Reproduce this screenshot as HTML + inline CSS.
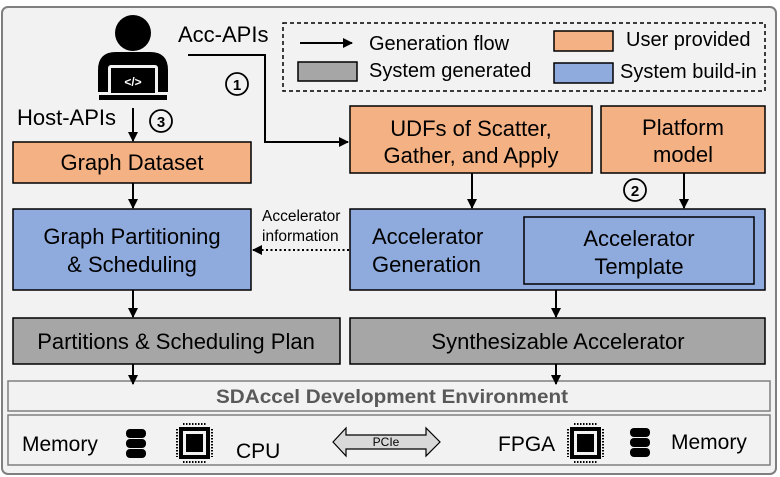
<!DOCTYPE html>
<html><head><style>
html,body{margin:0;padding:0;background:#fff;}
svg{display:block;font-family:"Liberation Sans",Arial,sans-serif;}
</style></head><body>
<svg width="780" height="477" viewBox="0 0 780 477" xmlns="http://www.w3.org/2000/svg">
<defs>
<marker id="ah" markerWidth="10" markerHeight="10" refX="9" refY="5" orient="auto" markerUnits="userSpaceOnUse"><path d="M0,0 L10,5 L0,10 z" fill="#000"/></marker>
</defs>
<rect x="2" y="7" width="774" height="467" rx="6" fill="#f2f2f2" stroke="#7f7f7f" stroke-width="2"/>

<!-- person icon -->
<circle cx="133" cy="33" r="18" fill="#000"/>
<path d="M98,92 L98,70 Q98,52 116,52 L150,52 Q168,52 168,70 L168,92 z" fill="#000"/>
<rect x="108" y="65" width="50" height="30" rx="3" fill="#f2f2f2"/>
<rect x="111" y="68" width="44" height="25" fill="#000"/>
<rect x="99" y="95" width="68" height="5" fill="#000"/>
<text x="133" y="86" font-size="12" font-weight="bold" fill="#fff" text-anchor="middle">&lt;/&gt;</text>

<text x="178" y="42" font-size="22" fill="#000">Acc-APIs</text>
<path d="M188,55 L265,55 L265,142 L348,142" fill="none" stroke="#000" stroke-width="2" marker-end="url(#ah)"/>
<circle cx="237" cy="84" r="11" fill="none" stroke="#000" stroke-width="1.8"/>
<text x="237" y="90" font-size="15" font-weight="bold" text-anchor="middle">1</text>

<!-- legend -->
<rect x="283" y="23" width="482" height="68" fill="none" stroke="#000" stroke-width="1.5" stroke-dasharray="4,3"/>
<line x1="300" y1="43" x2="352" y2="43" stroke="#000" stroke-width="2" marker-end="url(#ah)"/>
<text x="369" y="50" font-size="20">Generation flow</text>
<rect x="298" y="62" width="59" height="19" fill="#a6a6a6" stroke="#000" stroke-width="1.5"/>
<text x="369" y="77" font-size="20">System generated</text>
<rect x="554" y="31" width="59" height="20" fill="#f4b183" stroke="#000" stroke-width="1.5"/>
<text x="626" y="46" font-size="20">User provided</text>
<rect x="554" y="63" width="59" height="20" fill="#8faadc" stroke="#000" stroke-width="1.5"/>
<text x="620" y="78" font-size="20">System build-in</text>

<text x="17" y="125" font-size="22">Host-APIs</text>
<line x1="133" y1="108" x2="133" y2="141" stroke="#000" stroke-width="2" marker-end="url(#ah)"/>
<circle cx="161" cy="121" r="11" fill="none" stroke="#000" stroke-width="1.8"/>
<text x="161" y="127" font-size="15" font-weight="bold" text-anchor="middle">3</text>

<!-- boxes -->
<rect x="13" y="142" width="238" height="41" fill="#f4b183" stroke="#000" stroke-width="1.5"/>
<text x="132" y="170" font-size="22" text-anchor="middle">Graph Dataset</text>
<rect x="350" y="106" width="242" height="67" fill="#f4b183" stroke="#000" stroke-width="1.5"/>
<text x="471" y="136" font-size="22" text-anchor="middle">UDFs of Scatter,</text>
<text x="471" y="163" font-size="22" text-anchor="middle">Gather, and Apply</text>
<rect x="601" y="106" width="164" height="67" fill="#f4b183" stroke="#000" stroke-width="1.5"/>
<text x="683" y="135" font-size="22" text-anchor="middle">Platform</text>
<text x="683" y="162" font-size="22" text-anchor="middle">model</text>

<line x1="133" y1="183" x2="133" y2="208" stroke="#000" stroke-width="2" marker-end="url(#ah)"/>
<line x1="472" y1="173" x2="472" y2="208" stroke="#000" stroke-width="2" marker-end="url(#ah)"/>
<line x1="684" y1="173" x2="684" y2="208" stroke="#000" stroke-width="2" marker-end="url(#ah)"/>
<circle cx="635" cy="190" r="11" fill="none" stroke="#000" stroke-width="1.8"/>
<text x="635" y="196" font-size="15" font-weight="bold" text-anchor="middle">2</text>

<rect x="13" y="209" width="238" height="81" fill="#8faadc" stroke="#000" stroke-width="1.5"/>
<text x="132" y="244" font-size="22" text-anchor="middle">Graph Partitioning</text>
<text x="132" y="272" font-size="22" text-anchor="middle">&amp;  Scheduling</text>

<text x="262" y="221" font-size="15.5">Accelerator</text>
<text x="262" y="241" font-size="15.5">information</text>
<line x1="349" y1="250" x2="253" y2="250" stroke="#000" stroke-width="2" stroke-dasharray="2,2.5" marker-end="url(#ah)"/>

<rect x="350" y="209" width="415" height="81" fill="#8faadc" stroke="#000" stroke-width="1.5"/>
<text x="372" y="244" font-size="22">Accelerator</text>
<text x="372" y="272" font-size="22">Generation</text>
<rect x="524" y="217" width="230" height="67" fill="#8faadc" stroke="#000" stroke-width="1.5"/>
<text x="639" y="246" font-size="22" text-anchor="middle">Accelerator</text>
<text x="639" y="274" font-size="22" text-anchor="middle">Template</text>

<line x1="133" y1="290" x2="133" y2="317" stroke="#000" stroke-width="2" marker-end="url(#ah)"/>
<line x1="556" y1="290" x2="556" y2="317" stroke="#000" stroke-width="2" marker-end="url(#ah)"/>

<rect x="13" y="318" width="327" height="46" fill="#a6a6a6" stroke="#000" stroke-width="1.5"/>
<text x="176" y="349" font-size="22" text-anchor="middle">Partitions &amp; Scheduling  Plan</text>
<rect x="350" y="318" width="415" height="46" fill="#a6a6a6" stroke="#000" stroke-width="1.5"/>
<text x="558" y="349" font-size="22" text-anchor="middle">Synthesizable  Accelerator</text>

<rect x="8" y="381" width="762" height="30" fill="#f2f2f2" stroke="#7f7f7f" stroke-width="1.5"/>
<line x1="133" y1="364" x2="133" y2="384" stroke="#000" stroke-width="2" marker-end="url(#ah)"/>
<line x1="556" y1="364" x2="556" y2="384" stroke="#000" stroke-width="2" marker-end="url(#ah)"/>
<text x="392" y="403" font-size="19.5" font-weight="bold" fill="#595959" text-anchor="middle" textLength="352" lengthAdjust="spacingAndGlyphs">SDAccel Development Environment</text>
<rect x="8" y="415" width="762" height="50" fill="#f2f2f2" stroke="#7f7f7f" stroke-width="1.5"/>

<text x="22" y="451" font-size="21">Memory</text>
<g fill="#000">
<rect x="126" y="429" width="20" height="9" rx="4"/><rect x="126" y="439" width="20" height="9" rx="4"/><rect x="126" y="449" width="20" height="9" rx="4"/>
</g>
<g>
<rect x="179" y="427" width="31" height="32" fill="#000"/><rect x="183" y="431" width="23" height="24" fill="#f2f2f2"/><rect x="186" y="434" width="17" height="18" fill="#000"/>
<line x1="177" y1="429" x2="177" y2="457" stroke="#000" stroke-width="2" stroke-dasharray="1.5,1.5"/>
<line x1="212" y1="429" x2="212" y2="457" stroke="#000" stroke-width="2" stroke-dasharray="1.5,1.5"/>
<line x1="183" y1="424" x2="206" y2="424" stroke="#000" stroke-width="2" stroke-dasharray="1.5,1.5"/>
<line x1="183" y1="462" x2="206" y2="462" stroke="#000" stroke-width="2" stroke-dasharray="1.5,1.5"/>
</g>
<text x="236" y="458" font-size="21">CPU</text>

<path d="M333,442 L346,428 L346,435 L426,435 L426,428 L440,442 L426,456 L426,449 L346,449 L346,456 z" fill="#d9d9d9" stroke="#000" stroke-width="1.2"/>
<text x="386" y="446" font-size="12" text-anchor="middle">PCIe</text>

<text x="498" y="451" font-size="21">FPGA</text>
<g>
<rect x="570" y="427" width="31" height="32" fill="#000"/><rect x="574" y="431" width="23" height="24" fill="#f2f2f2"/><rect x="577" y="434" width="17" height="18" fill="#000"/>
<line x1="568" y1="429" x2="568" y2="457" stroke="#000" stroke-width="2" stroke-dasharray="1.5,1.5"/>
<line x1="603" y1="429" x2="603" y2="457" stroke="#000" stroke-width="2" stroke-dasharray="1.5,1.5"/>
<line x1="574" y1="424" x2="597" y2="424" stroke="#000" stroke-width="2" stroke-dasharray="1.5,1.5"/>
<line x1="574" y1="462" x2="597" y2="462" stroke="#000" stroke-width="2" stroke-dasharray="1.5,1.5"/>
</g>
<g fill="#000">
<rect x="630" y="428" width="20" height="9" rx="4"/><rect x="630" y="438" width="20" height="9" rx="4"/><rect x="630" y="448" width="20" height="9" rx="4"/>
</g>
<text x="671" y="449" font-size="21">Memory</text>
</svg>
</body></html>
